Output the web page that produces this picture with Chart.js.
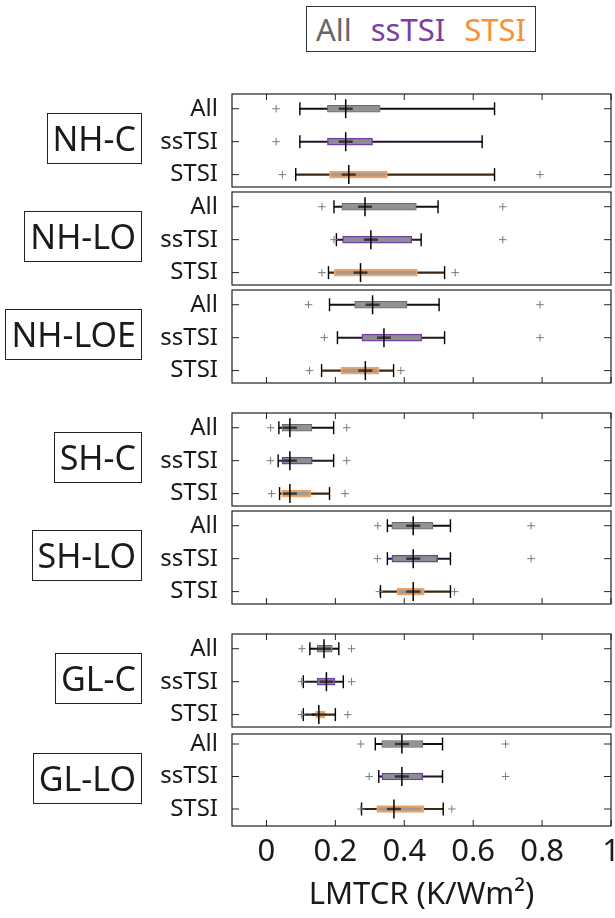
<!DOCTYPE html>
<html>
<head>
<meta charset="utf-8">
<script src="https://cdn.jsdelivr.net/npm/chart.js@4.4.0/dist/chart.umd.min.js"></script>
<style>
  html, body { margin: 0; padding: 0; background: #fff; }
  #wrap { position: relative; width: 615px; height: 918px; overflow: hidden; font-family: "Noto Sans", sans-serif; color: #1a1a1a; }
  #wrap canvas { position: absolute; left: 0; }
  .legend { position: absolute; left: 306px; top: 6px; width: 228px; height: 44px; border: 1.3px solid #333;
            display: flex; align-items: center; justify-content: center; gap: 19px; font-size: 31px; }
  .tag { position: absolute; right: 473px; height: 49px; line-height: 49px; padding: 0 5px;
         border: 1.2px solid #222; font-size: 34px; white-space: nowrap; }
</style>
</head>
<body>
<div id="wrap"></div>
<script>
// one panel per region, three runs per panel (top to bottom)
const regions = ['NH-C', 'NH-LO', 'NH-LOE', 'SH-C', 'SH-LO', 'GL-C', 'GL-LO'];
const runs = ['All', 'ssTSI', 'STSI'];
const xTicks = [0, 0.2, 0.4, 0.6, 0.8, 1];

// box statistics, rows = All / ssTSI / STSI
const whiskerLow = [
  [0.097, 0.097, 0.085],
  [0.196, 0.203, 0.180],
  [0.183, 0.206, 0.160],
  [0.036, 0.034, 0.038],
  [0.351, 0.351, 0.331],
  [0.126, 0.107, 0.107],
  [0.316, 0.326, 0.276]
];
const quart1 = [
  [0.177, 0.177, 0.183],
  [0.219, 0.221, 0.196],
  [0.256, 0.277, 0.216],
  [0.045, 0.045, 0.044],
  [0.364, 0.364, 0.379],
  [0.147, 0.147, 0.143],
  [0.335, 0.335, 0.320]
];
const medians = [
  [0.230, 0.230, 0.239],
  [0.286, 0.303, 0.273],
  [0.308, 0.341, 0.287],
  [0.068, 0.068, 0.068],
  [0.426, 0.426, 0.426],
  [0.167, 0.174, 0.152],
  [0.393, 0.393, 0.370]
];
const quart3 = [
  [0.330, 0.308, 0.351],
  [0.435, 0.422, 0.438],
  [0.408, 0.451, 0.327],
  [0.132, 0.133, 0.129],
  [0.483, 0.497, 0.458],
  [0.191, 0.199, 0.170],
  [0.454, 0.454, 0.457]
];
const whiskerHigh = [
  [0.662, 0.626, 0.662],
  [0.498, 0.449, 0.517],
  [0.501, 0.517, 0.369],
  [0.195, 0.195, 0.183],
  [0.534, 0.534, 0.534],
  [0.210, 0.223, 0.200],
  [0.511, 0.511, 0.513]
];
const outliers = [
  [[0.028], [0.028], [0.046, 0.794]],
  [[0.161, 0.686], [0.196, 0.686], [0.161, 0.548]],
  [[0.122, 0.794], [0.168, 0.794], [0.125, 0.390]],
  [[0.012, 0.233], [0.012, 0.233], [0.015, 0.228]],
  [[0.323, 0.768], [0.322, 0.768], [0.328, 0.546]],
  [[0.103, 0.247], [0.102, 0.247], [0.102, 0.236]],
  [[0.274, 0.694], [0.298, 0.694], [0.274, 0.538]]
];

// panel placement on the page
const panelTop = [94, 192, 290, 413, 511, 634, 734];
const panelHeight = [93, 93, 93, 93, 93, 93, 92];
const yRange = [
  [0.553, 3.376], [0.553, 3.376], [0.553, 3.376], [0.553, 3.376],
  [0.553, 3.376], [0.553, 3.376], [0.692, 3.523]
];
const ticksTop = [true, false, false, true, false, true, false];
const ticksBottom = [false, false, true, false, true, false, true];

const runText = ['#666666', '#7a3f9f', '#f6913a'];
const boxFill = ['#939393', '#8e8e8e', '#a69a90'];
const boxEdge = ['#6a6a6a', '#7440a8', '#f4a261'];
const boxEdgeWidth = [1, 1.5, 2];
const whiskerColor = ['#111111', '#1d1626', '#3d2712'];

Chart.defaults.font.family = '"Noto Sans", sans-serif';
Chart.defaults.color = '#1a1a1a';

const wrap = document.getElementById('wrap');

// legend box
const legend = document.createElement('div');
legend.className = 'legend';
runs.forEach((r, i) => {
  const s = document.createElement('span');
  s.textContent = r;
  s.style.color = runText[i];
  legend.appendChild(s);
});
wrap.appendChild(legend);

// frame with inward ticks, like the axes box
const framePlugin = {
  id: 'frame',
  afterDraw(chart, args, opts) {
    const { ctx, chartArea: a, scales } = chart;
    ctx.save();
    ctx.strokeStyle = '#222';
    ctx.lineWidth = 1.2;
    ctx.strokeRect(a.left, a.top, a.right - a.left, a.bottom - a.top);
    ctx.lineWidth = 1;
    ctx.beginPath();
    runs.forEach((r, i) => {
      const y = scales.y.getPixelForValue(i + 1);
      ctx.moveTo(a.left, y); ctx.lineTo(a.left + 7, y);
      ctx.moveTo(a.right, y); ctx.lineTo(a.right - 7, y);
    });
    xTicks.forEach(v => {
      const x = scales.x.getPixelForValue(v);
      if (opts.top) { ctx.moveTo(x, a.top); ctx.lineTo(x, a.top + 6); }
      if (opts.bottom) { ctx.moveTo(x, a.bottom); ctx.lineTo(x, a.bottom - 6); }
    });
    ctx.stroke();
    ctx.restore();
  }
};

regions.forEach((name, p) => {
  const last = p === regions.length - 1;
  const canvasTop = panelTop[p] - 3;
  const canvasHeight = last ? 918 - canvasTop : panelHeight[p] + 6;

  const cv = document.createElement('canvas');
  cv.width = 615;
  cv.height = canvasHeight;
  cv.style.top = canvasTop + 'px';
  wrap.appendChild(cv);

  // region name box
  const tag = document.createElement('div');
  tag.className = 'tag';
  tag.textContent = name;
  tag.style.top = (panelTop[p] + panelHeight[p] / 2 - 2 - 25.5) + 'px';
  wrap.appendChild(tag);

  const rowY = runs.map((r, i) => i + 1);
  const boxData = rowY.map((y, i) => ({ x: [quart1[p][i], quart3[p][i]], y }));
  const whiskData = rowY.map((y, i) => ({ x: [whiskerLow[p][i], whiskerHigh[p][i]], y }));
  const medData = rowY.map((y, i) => ({ x: medians[p][i], y }));
  const capData = [];
  const outData = [];
  rowY.forEach((y, i) => {
    capData.push({ x: whiskerLow[p][i], y }, { x: whiskerHigh[p][i], y });
    outliers[p][i].forEach(v => outData.push({ x: v, y }));
  });

  new Chart(cv, {
    type: 'bar',
    data: {
      datasets: [
        {
          type: 'scatter', data: outData, order: 1,
          pointStyle: 'cross', pointRadius: 3.8, pointBorderWidth: 1,
          pointBorderColor: '#7a7a7a'
        },
        {
          type: 'scatter', data: medData, order: 2,
          pointStyle: 'line', pointRotation: 90, pointRadius: 9.5,
          pointBorderWidth: 1.5, pointBorderColor: '#000'
        },
        {
          type: 'scatter', data: medData, order: 3,
          pointStyle: 'line', pointRadius: 7, pointBorderWidth: 2.4,
          pointBorderColor: 'rgba(20,20,20,0.75)'
        },
        {
          type: 'scatter', data: capData, order: 4,
          pointStyle: 'line', pointRotation: 90, pointRadius: 6.5,
          pointBorderWidth: 1.4, pointBorderColor: '#000'
        },
        {
          type: 'bar', data: boxData, order: 5, grouped: false,
          barThickness: 7, borderSkipped: false,
          backgroundColor: boxFill, borderColor: boxEdge, borderWidth: boxEdgeWidth
        },
        {
          type: 'bar', data: whiskData, order: 6, grouped: false,
          barThickness: 1.4, borderWidth: 0,
          backgroundColor: whiskerColor
        }
      ]
    },
    options: {
      indexAxis: 'y',
      responsive: false,
      animation: false,
      events: [],
      layout: {
        autoPadding: false,
        padding: { top: 3, bottom: last ? 0 : 3, left: 0, right: 4 }
      },
      plugins: {
        legend: { display: false },
        tooltip: { enabled: false },
        frame: { top: ticksTop[p], bottom: ticksBottom[p] }
      },
      scales: {
        x: {
          type: 'linear',
          position: 'bottom',
          min: -0.1,
          max: 1,
          offset: false,
          display: last,
          grid: { display: false, drawTicks: false, offset: false },
          border: { display: false },
          ticks: {
            includeBounds: false,
            autoSkip: false,
            maxRotation: 0,
            padding: 8,
            font: { size: 31 },
            callback: v => String(v)
          },
          afterBuildTicks: s => { s.ticks = xTicks.map(v => ({ value: v })); },
          afterFit: s => {
            if (!last) return;
            s.height = 918 - 826;
            s.paddingLeft = 0;
            s.paddingRight = 0;
          },
          title: {
            display: true,
            text: 'LMTCR (K/Wm²)',
            font: { size: 31 },
            padding: { top: 0, bottom: 4 }
          }
        },
        y: {
          type: 'linear',
          position: 'left',
          min: yRange[p][0],
          max: yRange[p][1],
          reverse: true,
          offset: false,
          grid: { display: false, drawTicks: false, offset: false },
          border: { display: false },
          ticks: {
            autoSkip: false,
            padding: 14,
            font: { size: 24 },
            callback: v => runs[v - 1]
          },
          afterBuildTicks: s => { s.ticks = rowY.map(v => ({ value: v })); },
          afterFit: s => { s.width = 232; s.paddingTop = 0; s.paddingBottom = 0; }
        }
      }
    },
    plugins: [framePlugin]
  });
});
</script>
</body>
</html>
